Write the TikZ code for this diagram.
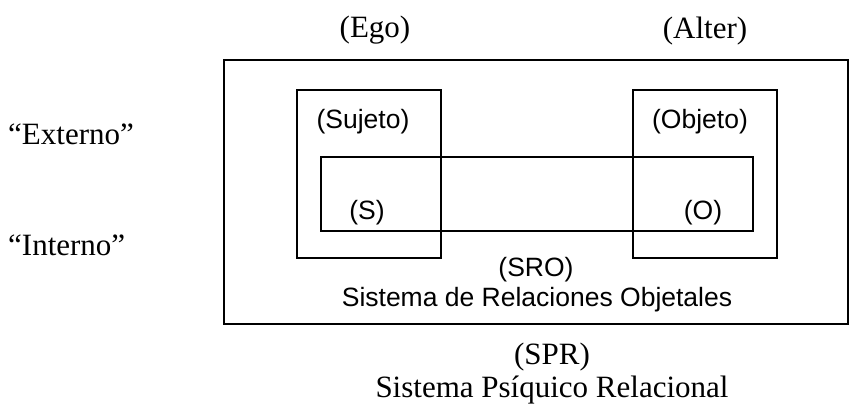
\documentclass[tikz,border=0pt]{standalone}
\usepackage{fontspec}
\setmainfont{Liberation Serif}
\newfontfamily\arialf{Liberation Sans}
\tikzset{
  box/.style={draw=black, line width=1.6pt},
  outerbox/.style={draw=black, line width=2pt},
  serif/.style={inner sep=0pt, font=\fontsize{31}{37}\selectfont},
  sans/.style={inner sep=0pt, font=\arialf\fontsize{26.5}{32}\selectfont},
}
\begin{document}
\begin{tikzpicture}[x=1pt,y=-1pt]
\useasboundingbox (0,0) rectangle (854,410);
% outer system
\draw[outerbox] (224,60) rectangle (848,324);
% subject and object squares
\draw[box] (297,90) rectangle (441,258);
\draw[box] (633,90) rectangle (777,258);
% relation rectangle
\draw[box] (321,157) rectangle (753,231);
% labels
\node[serif] (ego) at (375,30) {(Ego)};
\node[serif] (alter) at (705,31) {(Alter)};
\node[serif, anchor=west] (ext) at (8,134) {“Externo”};
\node[serif, anchor=west] (int) at (8,245) {“Interno”};
\node[sans] (suj) at (363,122) {(Sujeto)};
\node[sans] (obj) at (700,122) {(Objeto)};
\node[sans] (s) at (367,213) {(S)};
\node[sans] (o) at (703,213) {(O)};
\node[sans] (sro) at (536,270) {(SRO)};
\node[sans] (sro2) at (537,300) {Sistema de Relaciones Objetales};
\node[serif] (spr) at (552,357) {(SPR)};
\node[serif] (spr2) at (552,390) {Sistema Psíquico Relacional};
\end{tikzpicture}
\end{document}
